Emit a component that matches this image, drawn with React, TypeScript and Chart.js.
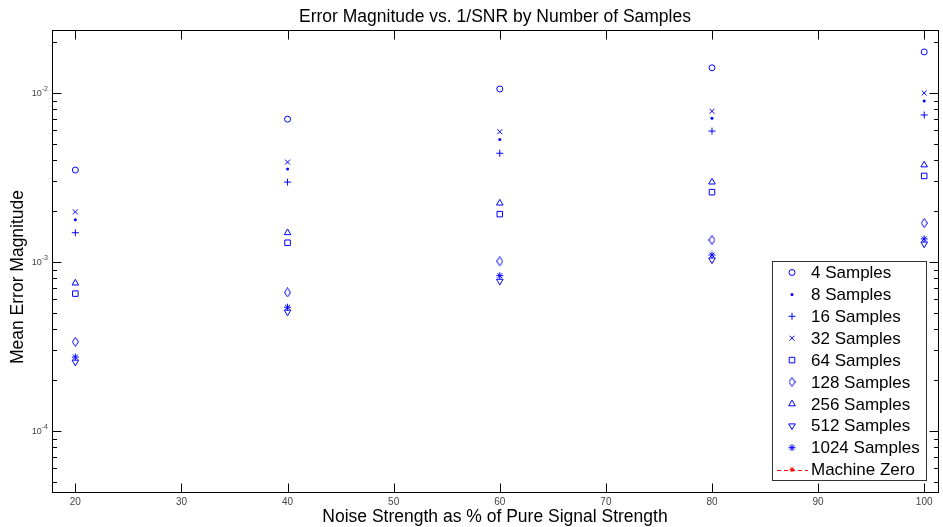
import { useEffect, useRef } from 'react';
import { Chart, registerables } from 'chart.js';
import { drawPoint } from 'chart.js/helpers';

Chart.register(...registerables);

const noiseLevels = [20, 40, 60, 80, 100];
const s4 = [3.5e-3, 7.0e-3, 1.056e-2, 1.41e-2, 1.75e-2];
const s8 = [1.78e-3, 3.55e-3, 5.3e-3, 7.1e-3, 8.97e-3];
const s16 = [1.49e-3, 2.97e-3, 4.4e-3, 5.95e-3, 7.41e-3];
const s32 = [1.98e-3, 3.9e-3, 5.9e-3, 7.8e-3, 1.0e-2];
const s64 = [6.5e-4, 1.3e-3, 1.92e-3, 2.59e-3, 3.23e-3];
const s128 = [3.37e-4, 6.6e-4, 1.01e-3, 1.35e-3, 1.7e-3];
const s256 = [7.5e-4, 1.49e-3, 2.23e-3, 2.97e-3, 3.75e-3];
const s512 = [2.56e-4, 5.06e-4, 7.7e-4, 1.03e-3, 1.28e-3];
const s1024 = [2.74e-4, 5.4e-4, 8.3e-4, 1.1e-3, 1.37e-3];
const machineZero = [2.2e-16, 2.2e-16, 2.2e-16, 2.2e-16, 2.2e-16];

const seriesLabels = [
  '4 Samples', '8 Samples', '16 Samples', '32 Samples', '64 Samples',
  '128 Samples', '256 Samples', '512 Samples', '1024 Samples', 'Machine Zero',
];
const xTickValues = [20, 30, 40, 50, 60, 70, 80, 90, 100];
const yDecades = [-5, -4, -3, -2, -1];

const titleText = 'Error Magnitude vs. 1/SNR by Number of Samples';
const xTitleText = 'Noise Strength as % of Pure Signal Strength';
const yTitleText = 'Mean Error Magnitude';

const FONT = "'Liberation Sans', Arial, sans-serif";
const BLUE = '#0000ff';
const RED = '#ff0000';

function makeDiamond(): HTMLCanvasElement {
  const c = document.createElement('canvas');
  c.width = 7;
  c.height = 10;
  const g = c.getContext('2d')!;
  g.strokeStyle = BLUE;
  g.lineWidth = 1;
  g.beginPath();
  g.moveTo(3.5, 0.5);
  g.lineTo(6.5, 5);
  g.lineTo(3.5, 9.5);
  g.lineTo(0.5, 5);
  g.closePath();
  g.stroke();
  return c;
}

export default function App() {
  const ref = useRef<HTMLCanvasElement | null>(null);

  useEffect(() => {
    if (!ref.current) return;
    const diamond = makeDiamond();
    const pts = (vals: number[]) => noiseLevels.map((x, i) => ({ x, y: vals[i] }));
    const hollow = 'rgba(0,0,0,0)';
    const base = { showLine: false, borderColor: BLUE, borderWidth: 1, backgroundColor: hollow };
    const datasets: any[] = [
      { ...base, label: seriesLabels[0], data: pts(s4), pointStyle: 'circle', pointRadius: 3 },
      { ...base, label: seriesLabels[1], data: pts(s8), pointStyle: 'circle', pointRadius: 1.5, backgroundColor: BLUE, pointBorderWidth: 0 },
      { ...base, label: seriesLabels[2], data: pts(s16), pointStyle: 'cross', pointRadius: 3.5 },
      { ...base, label: seriesLabels[3], data: pts(s32), pointStyle: 'crossRot', pointRadius: 3.5 },
      { ...base, label: seriesLabels[4], data: pts(s64), pointStyle: 'rect', pointRadius: 3.9 },
      { ...base, label: seriesLabels[5], data: pts(s128), pointStyle: diamond, pointRadius: 4 },
      { ...base, label: seriesLabels[6], data: pts(s256), pointStyle: 'triangle', pointRadius: 3.8 },
      { ...base, label: seriesLabels[7], data: pts(s512), pointStyle: 'triangle', pointRadius: 3.8, pointRotation: 180 },
      { ...base, label: seriesLabels[8], data: pts(s1024), pointStyle: 'star', pointRadius: 3.5 },
      {
        label: seriesLabels[9], data: pts(machineZero), showLine: true, borderColor: RED, backgroundColor: RED,
        borderWidth: 1, borderDash: [4, 3], pointStyle: 'star', pointRadius: 2.5,
      },
    ];

    const decor = {
      id: 'decor',
      afterDraw(chart: any) {
        const { ctx, chartArea: a, scales } = chart;
        const xs = scales.x;
        const ys = scales.y;
        const line = (x1: number, y1: number, x2: number, y2: number) => {
          ctx.beginPath();
          ctx.moveTo(x1, y1);
          ctx.lineTo(x2, y2);
          ctx.stroke();
        };
        ctx.save();
        ctx.strokeStyle = '#000';
        ctx.lineWidth = 1;
        const L = Math.round(a.left) + 0.5;
        const R = Math.round(a.right) + 0.5;
        const T = Math.round(a.top) + 0.5;
        const B = Math.round(a.bottom) + 0.5;
        ctx.strokeRect(L, T, R - L, B - T);
        for (const v of xTickValues) {
          const px = Math.round(xs.getPixelForValue(v)) + 0.5;
          line(px, B, px, B - 9);
          line(px, T, px, T + 9);
        }
        for (const e of yDecades) {
          for (let k = 1; k <= 9; k++) {
            const v = k * Math.pow(10, e);
            if (v < ys.min || v > ys.max) continue;
            const py = Math.round(ys.getPixelForValue(v)) + 0.5;
            const len = k === 1 ? 9 : 4.5;
            line(L, py, L + len, py);
            line(R, py, R - len, py);
          }
        }
        ctx.fillStyle = '#444';
        ctx.textBaseline = 'middle';
        for (const e of yDecades) {
          const v = Math.pow(10, e);
          if (v < ys.min || v > ys.max) continue;
          const py = ys.getPixelForValue(v);
          ctx.font = `7px ${FONT}`;
          const expTxt = `-${Math.abs(e)}`;
          const ew = ctx.measureText(expTxt).width;
          ctx.textAlign = 'left';
          const expX = a.left - 4 - ew;
          ctx.fillText(expTxt, expX, py - 4);
          ctx.font = `9px ${FONT}`;
          ctx.textAlign = 'right';
          ctx.fillText('10', expX, py + 1);
        }
        ctx.fillStyle = '#000';
        ctx.textAlign = 'center';
        ctx.textBaseline = 'middle';
        const cx = (a.left + a.right) / 2;
        ctx.font = `17.5px ${FONT}`;
        ctx.fillText(titleText, cx, 17);
        ctx.fillText(xTitleText, cx, 517);
        ctx.save();
        ctx.translate(18, 277);
        ctx.rotate(-Math.PI / 2);
        ctx.fillText(yTitleText, 0, 0);
        ctx.restore();
        const bx = 772.5, by = 261.5, bw = 154, bh = 219;
        ctx.fillStyle = '#fff';
        ctx.fillRect(bx, by, bw, bh);
        ctx.strokeStyle = '#333';
        ctx.strokeRect(bx, by, bw, bh);
        const rowH = 21.9;
        chart.data.datasets.forEach((ds: any, i: number) => {
          const ry = by + 11 + i * rowH;
          const mx = 792;
          ctx.strokeStyle = ds.borderColor;
          ctx.fillStyle = ds.backgroundColor;
          ctx.lineWidth = 1;
          if (ds.showLine) {
            ctx.save();
            ctx.setLineDash(ds.borderDash || []);
            line(777, Math.round(ry) + 0.5, 808, Math.round(ry) + 0.5);
            ctx.restore();
          }
          drawPoint(ctx, {
            pointStyle: ds.pointStyle,
            radius: ds.pointRadius,
            rotation: ds.pointRotation || 0,
            borderWidth: ds.pointBorderWidth === 0 ? 0 : 1,
          } as any, mx, ry);
          ctx.fillStyle = '#000';
          ctx.font = `17px ${FONT}`;
          ctx.textAlign = 'left';
          ctx.textBaseline = 'middle';
          ctx.fillText(ds.label, 811, ry + 1);
        });
        ctx.restore();
      },
    };

    const chart = new Chart(ref.current, {
      type: 'scatter',
      data: { datasets },
      options: {
        animation: false,
        responsive: false,
        devicePixelRatio: 1,
        events: [],
        layout: { padding: { top: 30, right: 2, left: 0, bottom: 0 } },
        plugins: { legend: { display: false }, title: { display: false }, tooltip: { enabled: false } },
        scales: {
          x: {
            type: 'linear',
            position: 'bottom',
            min: 17.8,
            max: 101.3,
            afterFit: (s: any) => { s.height = 35; },
            grid: { display: false, drawTicks: false },
            border: { display: false },
            ticks: {
              stepSize: 10,
              includeBounds: false,
              autoSkip: false,
              maxRotation: 0,
              padding: 4,
              color: '#444',
              font: { family: FONT, size: 10 },
            },
          },
          y: {
            type: 'logarithmic',
            position: 'left',
            min: 4.356e-5,
            max: 0.02359,
            afterFit: (s: any) => { s.width = 52; },
            grid: { display: false, drawTicks: false },
            border: { display: false },
            ticks: { display: false },
          },
        },
      },
      plugins: [decor],
    });
    return () => chart.destroy();
  }, []);

  return (
    <div style={{ position: 'fixed', left: 0, top: 0, width: 943, height: 527, background: '#fff' }}>
      <canvas ref={ref} width={943} height={527} style={{ width: 943, height: 527, display: 'block' }} />
    </div>
  );
}
